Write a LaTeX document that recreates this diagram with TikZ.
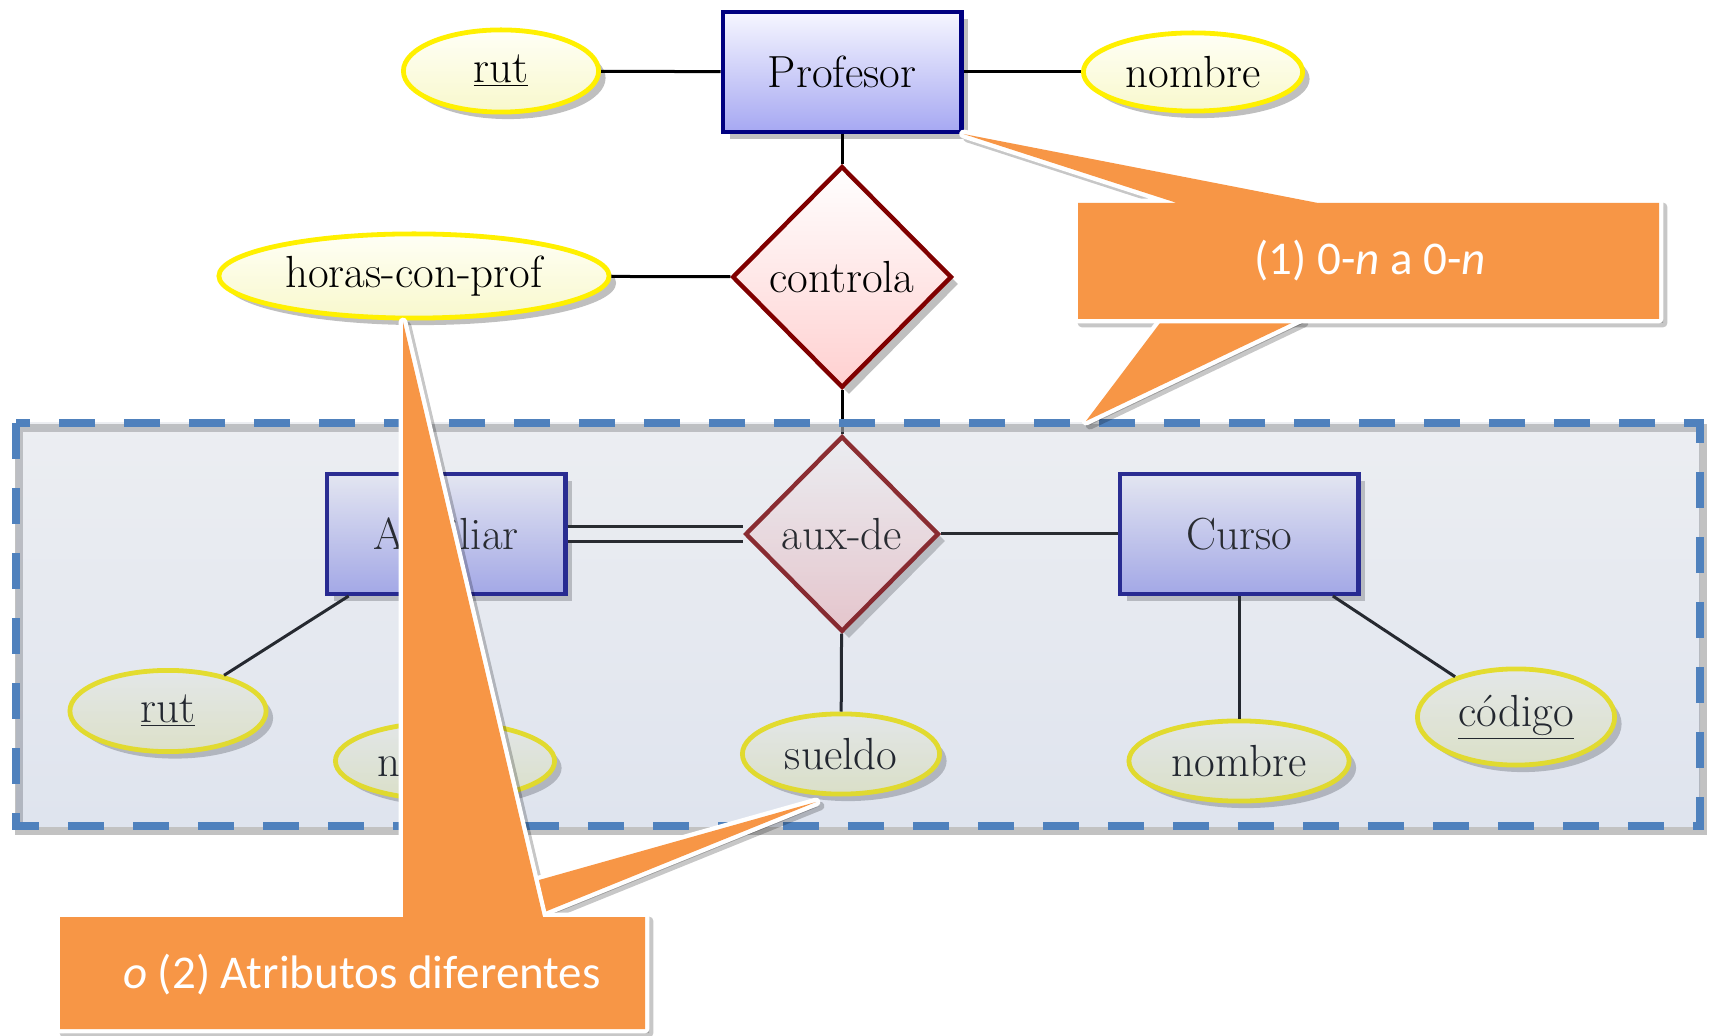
\documentclass[tikz,border=0pt]{standalone}
\usepackage{fontspec}
\newfontfamily\notefont{Carlito}
\usepackage{tikz}
\usetikzlibrary{shapes.geometric,shadows}
\definecolor{EntLine}{HTML}{000080}
\definecolor{EntTop}{HTML}{F6F6FF}
\definecolor{EntBot}{HTML}{A6A8F2}
\definecolor{RelLine}{HTML}{800000}
\definecolor{RelBot}{HTML}{FFD0D0}
\definecolor{AttLine}{HTML}{FFF000}
\definecolor{AttTop}{HTML}{FFFFF6}
\definecolor{AttBot}{HTML}{F8F8CC}
\definecolor{GrpTop}{HTML}{B3BBCB}
\definecolor{GrpBot}{HTML}{7F93BB}
\definecolor{GrpLine}{HTML}{4F81BD}
\definecolor{NoteFill}{HTML}{F79646}
\newcommand{\erfont}{\fontsize{22.5}{27}\selectfont}
\tikzset{
  ershadow/.style={drop shadow={shadow xshift=3.5pt,shadow yshift=-3.5pt,fill=black!50,opacity=.5}},
  entity/.style={draw=EntLine,line width=2.2pt,top color=EntTop,bottom color=EntBot,
                 minimum width=119.3pt,minimum height=59.8pt,font=\erfont,ershadow},
  relation/.style={diamond,aspect=1,draw=RelLine,line width=2.2pt,top color=white,bottom color=RelBot,
                   inner sep=0pt,font=\erfont,ershadow},
  attrib/.style={ellipse,draw=AttLine,line width=2.4pt,top color=AttTop,bottom color=AttBot,
                 inner sep=0pt,font=\erfont,ershadow},
  link/.style={draw=black,line width=1.5pt},
  grpshadow/.style={draw=black!40,line width=4pt,opacity=.6,transform canvas={shift={(1.5pt,-2.5pt)}}},
  grpfill/.style={top color=GrpTop,bottom color=GrpBot,fill opacity=.25},
  grpedge/.style={draw=GrpLine,line width=4pt,dash pattern=on 18pt off 14.5pt},
  noteshadow/.style={fill=black,draw=black,line width=4.4pt,line join=round,opacity=.22,
                     transform canvas={shift={(2pt,-2pt)}}},
  notebox/.style={fill=NoteFill,preaction={draw=white,line width=4.4pt,line join=round}},
  notetext/.style={font=\notefont\fontsize{23.5}{28}\selectfont,text=white,inner sep=0pt}
}
\begin{document}
\begin{tikzpicture}[x=0.5pt,y=-0.5pt]
  \useasboundingbox (0,0) rectangle (1711,1036);

  % Profesor y controla
  \node[entity] (prof) at (842,72) {Profesor};
  \node[attrib,minimum width=97.6pt,minimum height=41.1pt] (rut) at (501,71) {\underline{rut}};
  \node[attrib,minimum width=109.6pt,minimum height=39.1pt] (nombre) at (1193,72) {nombre};
  \node[relation,minimum width=109.8pt,minimum height=110.8pt] (controla) at (842,277) {controla};
  \node[attrib,minimum width=195.1pt,minimum height=42.1pt] (horas) at (414,276) {horas-con-prof};

  \draw[link] (rut) -- (prof);
  \draw[link] (prof) -- (nombre);
  \draw[link] (prof) -- (controla);
  \draw[link] (horas) -- (controla);

  % agregado aux-de
  \node[entity] (aux) at (446,534) {Auxiliar};
  \node[relation,minimum width=96.8pt,minimum height=97.8pt] (auxde) at (842,534) {aux-de};
  \node[entity] (curso) at (1239,534) {Curso};
  \node[attrib,minimum width=98.1pt,minimum height=40.6pt] (rut2) at (168,711) {\underline{rut}};
  \node[attrib,minimum width=109.6pt,minimum height=38.6pt] (nom2) at (445,761) {nombre};
  \node[attrib,minimum width=98.6pt,minimum height=40.1pt] (sueldo) at (841,754) {sueldo};
  \node[attrib,minimum width=110.1pt,minimum height=40.1pt] (nom3) at (1239,761) {nombre};
  \node[attrib,minimum width=98.6pt,minimum height=48.1pt] (codigo) at (1516,717) {\underline{código}};

  \draw[link] (controla) -- (auxde);
  \draw[link,double,double distance=6pt] (aux) -- (auxde);
  \draw[link] (auxde) -- (curso);
  \draw[link] (auxde) -- (sueldo);
  \draw[link] (aux) -- (rut2);
  \draw[link] (aux) -- (nom2);
  \draw[link] (curso) -- (nom3);
  \draw[link] (curso) -- (codigo);

  % caja punteada
  \coordinate (gnw) at (16,423);
  \coordinate (gse) at (1700,826);
  \draw[grpshadow] (gnw) rectangle (gse);
  \shade[grpfill] (gnw) rectangle (gse);
  \draw[grpedge] (gnw) rectangle (gse);

  % nota (1)
  \coordinate (n1tip) at (1086,421);
  \path[noteshadow] (1163,319) -- (n1tip) -- (1300,319) -- cycle;
  \path[noteshadow] (1078,203) rectangle (1659,319) (prof.south east) -- (1177,203) -- (1318,203) -- cycle;
  \path[notebox] (1163,319) -- (n1tip) -- (1300,319) -- cycle;
  \path[notebox] (1078,203) rectangle (1659,319) (prof.south east) -- (1177,203) -- (1318,203) -- cycle;
  \node[notetext] (note1) at (1370,261) {(1) 0-\textit{n} a 0-\textit{n}};

  % nota (2)
  \coordinate (n2tip) at (403,322);
  \coordinate (n2tipb) at (816,802);
  \path[noteshadow] (n2tipb) -- (500,891) -- (500,930) -- cycle;
  \path[noteshadow] (60,917) rectangle (645,1029) (n2tip) -- (403,917) -- (543,917) -- cycle;
  \path[notebox] (n2tipb) -- (500,891) -- (500,930) -- cycle;
  \path[notebox] (60,917) rectangle (645,1029) (n2tip) -- (403,917) -- (543,917) -- cycle;
  \node[notetext] (note2) at (362,975) {\textit{o} (2) Atributos diferentes};
\end{tikzpicture}
\end{document}
